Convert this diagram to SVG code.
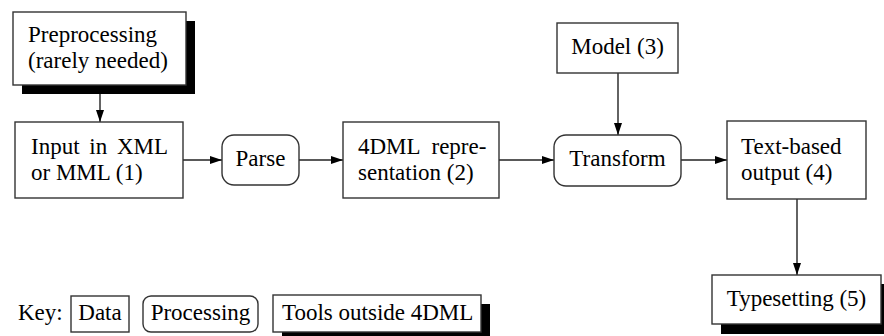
<svg xmlns="http://www.w3.org/2000/svg" width="884" height="336" viewBox="0 0 884 336">
<style>
.box{fill:#fff;stroke:#333;stroke-width:1.4}
.shadow{fill:#000}
.t{font-family:"Liberation Serif","Times New Roman",serif;font-size:23px;fill:#000}
.c{text-anchor:middle}
.edge{stroke:#222;stroke-width:1.4;fill:none;marker-end:url(#ah)}
</style>
<defs>
<marker id="ah" viewBox="0 0 12 8" refX="12" refY="4" markerWidth="12" markerHeight="8" markerUnits="userSpaceOnUse" orient="auto">
<path d="M0,0 L12,4 L0,8 Z" fill="#000"/>
</marker>
</defs>
<g id="connectors">
<line class="edge" x1="100" y1="94" x2="100" y2="122"/>
<line class="edge" x1="183" y1="160" x2="222" y2="160"/>
<line class="edge" x1="299" y1="160" x2="343" y2="160"/>
<line class="edge" x1="499" y1="160" x2="554" y2="160"/>
<line class="edge" x1="618" y1="73" x2="618" y2="135"/>
<line class="edge" x1="681" y1="160" x2="727" y2="160"/>
<line class="edge" x1="797" y1="199" x2="797" y2="275"/>
</g>
<g id="preprocessing">
<rect class="shadow" x="22" y="21" width="173" height="73"/>
<rect class="box" x="13" y="12" width="173" height="73"/>
<text class="t" x="28" y="42">Preprocessing</text>
<text class="t" x="28" y="68">(rarely needed)</text>
</g>
<g id="input">
<rect class="box" x="15" y="122" width="168" height="76"/>
<text class="t" x="31" y="154" word-spacing="4">Input in XML</text>
<text class="t" x="31" y="180">or MML (1)</text>
</g>
<g id="parse">
<rect class="box" x="222" y="135" width="77" height="50" rx="12" ry="12"/>
<text class="t c" x="260.5" y="166">Parse</text>
</g>
<g id="representation">
<rect class="box" x="343" y="122" width="156" height="76"/>
<text class="t" x="358" y="154" word-spacing="6">4DML repre-</text>
<text class="t" x="358" y="180">sentation (2)</text>
</g>
<g id="model">
<rect class="box" x="557" y="23" width="121" height="50"/>
<text class="t c" x="617.5" y="54">Model (3)</text>
</g>
<g id="transform">
<rect class="box" x="554" y="135" width="127" height="51" rx="12" ry="12"/>
<text class="t c" x="617.5" y="166">Transform</text>
</g>
<g id="output">
<rect class="box" x="727" y="121" width="139" height="78"/>
<text class="t" x="741" y="154">Text-based</text>
<text class="t" x="741" y="180">output (4)</text>
</g>
<g id="typesetting">
<rect class="shadow" x="721" y="284" width="169" height="50"/>
<rect class="box" x="712" y="275" width="169" height="49"/>
<text class="t c" x="796.5" y="306">Typesetting (5)</text>
</g>
<g id="key">
<text class="t" x="18" y="320">Key:</text>
<rect class="box" x="71" y="296" width="58" height="36"/>
<text class="t c" x="100" y="320">Data</text>
<rect class="box" x="143" y="296" width="115" height="36" rx="8" ry="8"/>
<text class="t c" x="200.5" y="320">Processing</text>
<rect class="shadow" x="282" y="304" width="208" height="37"/>
<rect class="box" x="273" y="295" width="208" height="37"/>
<text class="t" x="282" y="320">Tools outside 4DML</text>
</g>
</svg>
